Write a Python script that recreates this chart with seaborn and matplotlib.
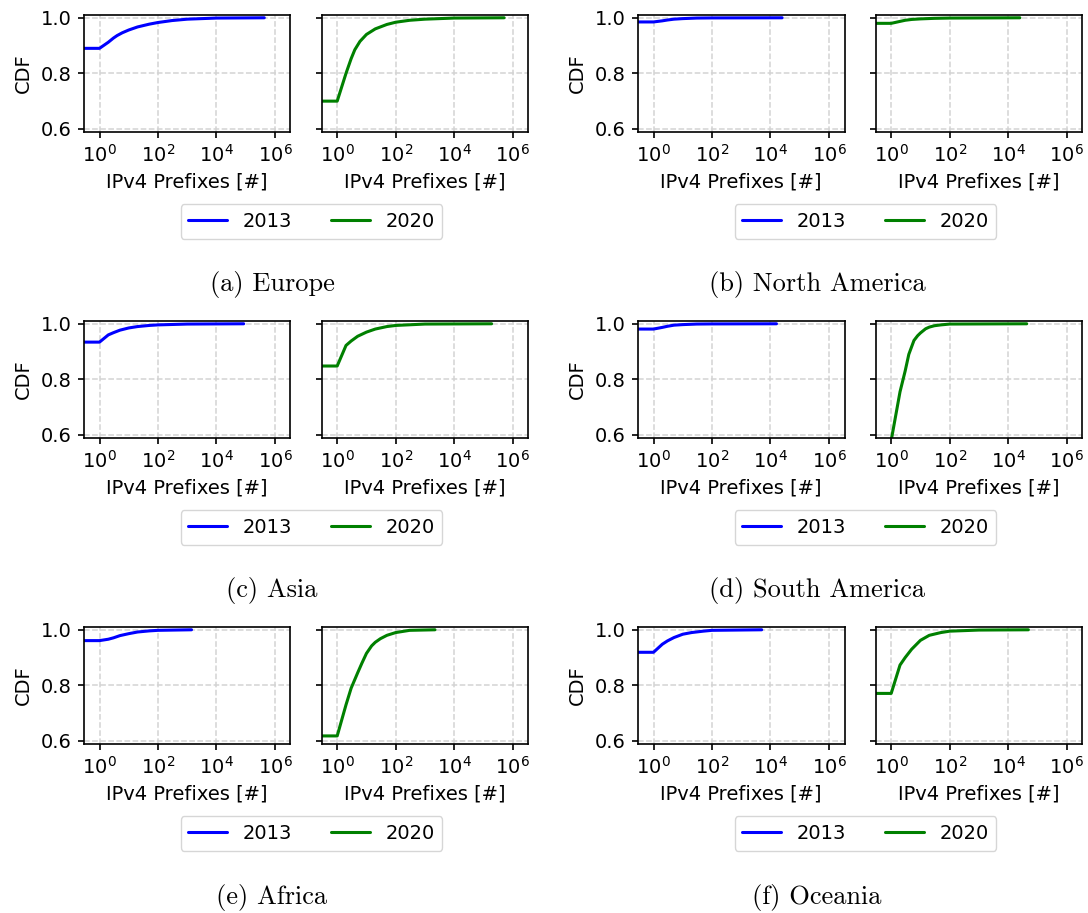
import pandas as pd
import matplotlib.pyplot as plt
import seaborn as sns
from matplotlib.ticker import NullLocator

# CDF of IPv4 prefixes per AS
eu_13_x = [0, 1, 2, 3, 4, 6, 10, 20, 50, 100, 300, 1000, 1e4, 4.3e5]
eu_13_y = [0.89, 0.89, 0.912, 0.927, 0.936, 0.946, 0.956, 0.967, 0.977, 0.983, 0.99, 0.995, 0.999, 1.0]
eu_20_x = [0, 1, 2, 3, 4, 6, 10, 20, 50, 100, 300, 1000, 1e4, 5.1e5]
eu_20_y = [0.70, 0.70, 0.80, 0.853, 0.885, 0.915, 0.94, 0.96, 0.976, 0.984, 0.991, 0.995, 0.999, 1.0]

na_13_x = [0, 1, 2, 3, 5, 10, 30, 100, 2.5e4]
na_13_y = [0.985, 0.985, 0.989, 0.992, 0.995, 0.997, 0.999, 0.9995, 1.0]
na_20_x = [0, 1, 2, 3, 5, 10, 30, 100, 2.5e4]
na_20_y = [0.98, 0.98, 0.987, 0.991, 0.994, 0.996, 0.998, 0.999, 1.0]

as_13_x = [0, 1, 2, 3, 5, 10, 20, 50, 100, 1000, 8.5e4]
as_13_y = [0.934, 0.934, 0.96, 0.968, 0.977, 0.985, 0.99, 0.994, 0.996, 0.999, 1.0]
as_20_x = [0, 1, 2, 3, 5, 10, 20, 50, 100, 1000, 1.9e5]
as_20_y = [0.848, 0.848, 0.922, 0.938, 0.955, 0.97, 0.981, 0.99, 0.994, 0.999, 1.0]

sa_13_x = [0, 1, 2, 3, 5, 10, 30, 100, 1.6e4]
sa_13_y = [0.981, 0.981, 0.987, 0.991, 0.995, 0.997, 0.999, 0.9995, 1.0]
sa_20_x = [0, 1, 2, 3, 4, 6, 8, 10, 15, 20, 30, 50, 100, 4.3e4]
sa_20_y = [0.58, 0.58, 0.755, 0.83, 0.89, 0.94, 0.957, 0.967, 0.982, 0.988, 0.993, 0.996, 0.999, 1.0]

af_13_x = [0, 1, 2, 3, 5, 10, 20, 50, 100, 1.4e3]
af_13_y = [0.961, 0.961, 0.966, 0.971, 0.979, 0.986, 0.992, 0.996, 0.998, 1.0]
af_20_x = [0, 1, 2, 3, 5, 7, 10, 15, 20, 30, 50, 100, 300, 2.2e3]
af_20_y = [0.618, 0.618, 0.73, 0.79, 0.845, 0.88, 0.915, 0.942, 0.955, 0.968, 0.98, 0.99, 0.998, 1.0]

oc_13_x = [0, 1, 2, 3, 5, 10, 20, 50, 100, 5e3]
oc_13_y = [0.919, 0.919, 0.948, 0.96, 0.972, 0.984, 0.99, 0.995, 0.998, 1.0]
oc_20_x = [0, 1, 2, 3, 5, 10, 20, 50, 100, 1000, 4.9e4]
oc_20_y = [0.771, 0.771, 0.873, 0.90, 0.93, 0.962, 0.98, 0.99, 0.995, 0.999, 1.0]

captions = ["(a) Europe", "(b) North America", "(c) Asia",
            "(d) South America", "(e) Africa", "(f) Oceania"]
years = ["2013", "2020"]
year_colors = ["blue", "green"]
y_ticks = [0.6, 0.8, 1.0]
x_ticks = [1, 1e2, 1e4, 1e6]

series = [
    [(eu_13_x, eu_13_y), (eu_20_x, eu_20_y)],
    [(na_13_x, na_13_y), (na_20_x, na_20_y)],
    [(as_13_x, as_13_y), (as_20_x, as_20_y)],
    [(sa_13_x, sa_13_y), (sa_20_x, sa_20_y)],
    [(af_13_x, af_13_y), (af_20_x, af_20_y)],
    [(oc_13_x, oc_13_y), (oc_20_x, oc_20_y)],
]

sns.set_style("ticks")
plt.rcParams["font.family"] = ["DejaVu Sans"]
for key in ["text.color", "axes.labelcolor", "xtick.color", "ytick.color"]:
    plt.rcParams[key] = "black"
FS = 14

W, H = 1088, 913
fig = plt.figure(figsize=(W / 100, H / 100), dpi=100)

ax_w, ax_h = 206.5, 116.7
col_shift, row_shift = 554, 306

for i, cap in enumerate(captions):
    r, c = divmod(i, 2)
    top = 15 + r * row_shift
    lefts = [84 + c * col_shift, 321.7 + c * col_shift]
    handles = []
    first = None
    for k in range(2):
        rect = [lefts[k] / W, 1 - (top + ax_h) / H, ax_w / W, ax_h / H]
        ax = fig.add_axes(rect, sharey=first)
        if first is None:
            first = ax
        xs, ys = series[i][k]
        df = pd.DataFrame({"prefixes": xs, "cdf": ys})
        sns.lineplot(data=df, x="prefixes", y="cdf", ax=ax, color=year_colors[k],
                     linewidth=2.2, legend=False, estimator=None)
        handles.append(ax.get_lines()[0])
        ax.set_xscale("log")
        ax.set_xlim(10 ** -0.53, 10 ** 6.53)
        ax.set_ylim(0.59, 1.01)
        ax.set_xticks(x_ticks)
        ax.xaxis.set_minor_locator(NullLocator())
        ax.set_yticks(y_ticks)
        ax.grid(True, ls="--", color="lightgray", lw=1.1)
        ax.set_axisbelow(True)
        for s in ax.spines.values():
            s.set_color("black")
            s.set_linewidth(1.2)
        ax.tick_params(labelsize=FS, length=4.2, width=1.2, pad=4.5)
        ax.set_xlabel("IPv4 Prefixes [#]", fontsize=FS, labelpad=5)
        if k == 0:
            ax.set_ylabel("CDF", fontsize=FS, labelpad=6)
        else:
            ax.set_ylabel("")
            ax.tick_params(labelleft=False)

    lx = (311.5 + c * col_shift) / W
    ly = 1 - (221.3 + r * row_shift) / H
    fig.legend(handles, years, loc="center", bbox_to_anchor=(lx, ly), ncol=2,
               fontsize=FS, handlelength=2.0, columnspacing=2.0)

    fig.text((272 + c * 545) / W, 1 - (285 + r * row_shift) / H, cap,
             ha="center", va="center", fontsize=19, family="cmr10")

fig.savefig("out.png", dpi=100)
